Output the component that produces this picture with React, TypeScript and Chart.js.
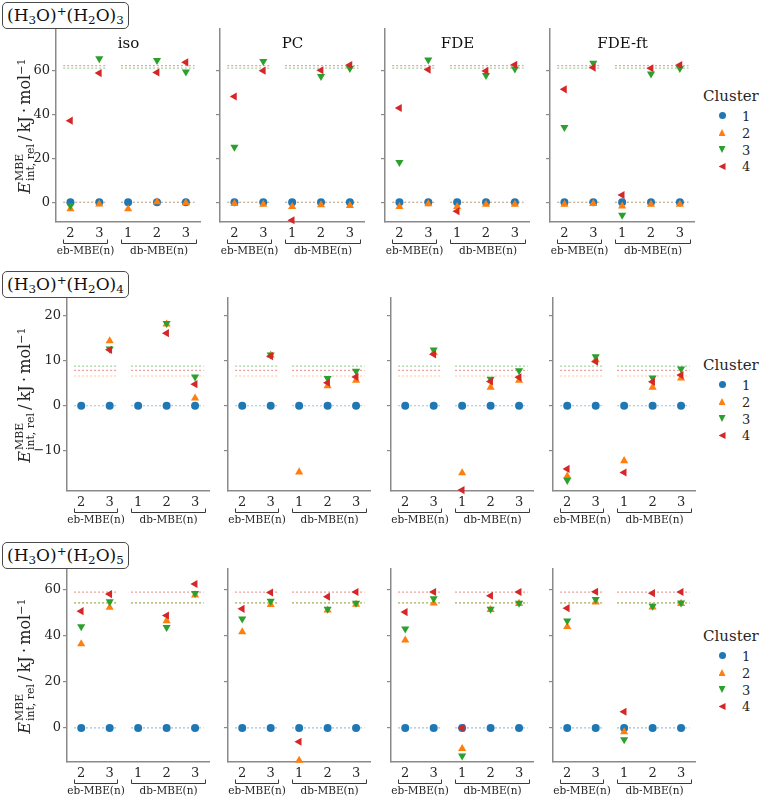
import React, { useEffect, useRef } from "react";
import { Chart, registerables } from "chart.js";

Chart.register(...registerables);

// ---------------- data ----------------
const METHODS = ["iso", "PC", "FDE", "FDE-ft"];
const X_VALUES = [0, 1, 2, 3, 4];
const X_TICK_LABELS = ["2", "3", "1", "2", "3"];
const GROUP_LABELS = ["eb-MBE(n)", "db-MBE(n)"];
const GROUP_SPANS = [[-0.25, 1.27], [1.74, 4.35]];
const REF_SPANS = [[-0.25, 1.25], [1.75, 4.3]];
const CLUSTERS = ["1", "2", "3", "4"];
const WATER_COUNTS = ["3", "4", "5"];

// (H3O)+(H2O)3 : rows = clusters 1..4, columns = eb2, eb3, db1, db2, db3
const N3_ISO = [
  [0, 0, 0, 0, 0],
  [-3.0, -0.9, -3.0, 0.15, -0.3],
  [-1.5, 65.5, null, 64.7, 59.5],
  [37.2, 58.9, null, 59.2, 63.8],
];
const N3_PC = [
  [0, 0, 0, 0, 0],
  [-0.6, -1.0, -2.0, -1.2, -1.5],
  [25.2, 64.3, null, 57.4, 61.1],
  [48.2, 60.0, -8.2, 60.2, 62.6],
];
const N3_FDE = [
  [0, 0, 0, 0, 0],
  [-2.0, -0.8, -2.0, -1.0, -1.0],
  [18.2, 64.9, null, 57.9, 60.8],
  [43.0, 60.5, -4.1, 59.9, 62.7],
];
const N3_FDEFT = [
  [0, 0, 0, 0, 0],
  [-1.0, -0.6, -1.8, -1.0, -1.0],
  [34.2, 63.5, -5.8, 58.6, 61.1],
  [51.5, 61.4, 3.3, 61.1, 62.6],
];
const N3_REF = [0, 0, 61.2, 62.3];
const N3_YLIM = [-9, 79];
const N3_YTICKS = [0, 20, 40, 60];
const N3_YTICK_LABELS = ["0", "20", "40", "60"];

// (H3O)+(H2O)4
const N4_ISO = [
  [0, 0, 0, 0, 0],
  [null, 14.4, null, 18.1, 1.7],
  [null, 12.6, null, 18.3, 6.4],
  [null, 12.4, null, 16.1, 4.8],
];
const N4_PC = [
  [0, 0, 0, 0, 0],
  [null, 11.2, -14.7, 4.4, 5.6],
  [null, 11.3, null, 6.1, 7.7],
  [null, 11.0, null, 5.1, 6.4],
];
const N4_FDE = [
  [0, 0, 0, 0, 0],
  [null, 11.8, -14.9, 4.1, 5.6],
  [null, 12.4, null, 5.9, 7.8],
  [null, 11.4, -18.7, 5.4, 6.3],
];
const N4_FDEFT = [
  [0, 0, 0, 0, 0],
  [-15.6, 10.2, -12.2, 4.1, 6.1],
  [-16.5, 10.9, null, 6.2, 8.2],
  [-14.0, 9.8, -14.8, 5.3, 6.8],
];
const N4_REF = [0, 6.6, 8.8, 7.85];
const N4_YLIM = [-18.9, 23.9];
const N4_YTICKS = [-10, 0, 10, 20];
const N4_YTICK_LABELS = ["\u221210", "0", "10", "20"];

// (H3O)+(H2O)5
const N5_ISO = [
  [0, 0, 0, 0, 0],
  [36.5, 52.3, null, 46.5, 57.7],
  [44.0, 54.8, null, 43.7, 58.4],
  [50.7, 58.1, null, 48.8, 62.5],
];
const N5_PC = [
  [0, 0, 0, 0, 0],
  [41.7, 53.5, -14.1, 51.1, 53.6],
  [47.4, 55.1, null, 51.6, 54.2],
  [51.7, 58.8, -6.0, 57.0, 59.0],
];
const N5_FDE = [
  [0, 0, 0, 0, 0],
  [38.1, 54.2, -9.0, 51.3, 54.0],
  [43.0, 56.2, -12.1, 51.6, 54.2],
  [50.3, 59.0, 0.0, 57.4, 59.0],
];
const N5_FDEFT = [
  [0, 0, 0, 0, 0],
  [44.0, 54.6, -1.7, 52.4, 54.0],
  [46.5, 55.8, -5.1, 52.9, 54.3],
  [52.0, 59.1, 7.0, 58.5, 59.0],
];
const N5_REF = [0, 54.3, 54.3, 59.0];
const N5_YLIM = [-14.8, 69];
const N5_YTICKS = [0, 20, 40, 60];
const N5_YTICK_LABELS = ["0", "20", "40", "60"];

const ROW_SERIES = [
  [N3_ISO, N3_PC, N3_FDE, N3_FDEFT],
  [N4_ISO, N4_PC, N4_FDE, N4_FDEFT],
  [N5_ISO, N5_PC, N5_FDE, N5_FDEFT],
];
const ROW_REFS = [N3_REF, N4_REF, N5_REF];
const ROW_YLIMS = [N3_YLIM, N4_YLIM, N5_YLIM];
const ROW_YTICKS = [N3_YTICKS, N4_YTICKS, N5_YTICKS];
const ROW_YTICK_LABELS = [N3_YTICK_LABELS, N4_YTICK_LABELS, N5_YTICK_LABELS];

// ---------------- style / layout ----------------
const FONT = "'DejaVu Serif', 'Liberation Serif', serif";
const TEXT = "#262626";
const SPINE = "#8a8a8a";
const COLORS = ["#1f77b4", "#ff7f0e", "#2ca02c", "#d62728"];
const REF_COLORS = [
  "rgba(31,119,180,0.45)",
  "rgba(255,127,14,0.45)",
  "rgba(44,160,44,0.45)",
  "rgba(214,39,40,0.45)",
];
const MARKERS = [
  { style: "circle", rot: 0, r: 4 },
  { style: "triangle", rot: 0, r: 4.7 },
  { style: "triangle", rot: 180, r: 4.7 },
  { style: "triangle", rot: -90, r: 4.7 },
];
const ROW_PLOT_LEFTS = [
  [56, 220, 385, 550],
  [67, 228, 391, 553],
  [67, 228, 391, 553],
];
const ROW_PLOT_W = [145, 143, 143];
const ROW_YLABEL_X = [25, 25, 25];
const ROW_TOPS = [29, 298, 569];
const PLOT_H = 193;
const PAD_T = 6;
const PAD_B = 45;
const PAD_R = 4;

Chart.defaults.font.family = FONT;

const zeroPadding = (s: any) => {
  s.paddingTop = 0;
  s.paddingBottom = 0;
  s.paddingLeft = 0;
  s.paddingRight = 0;
};

const bracketPlugin = {
  id: "groupBrackets",
  afterDraw(chart: any) {
    const { ctx, chartArea } = chart;
    const xs = chart.scales.x;
    ctx.save();
    ctx.strokeStyle = "#3a3a3a";
    ctx.lineWidth = 1;
    ctx.fillStyle = TEXT;
    ctx.font = `10.5px ${FONT}`;
    ctx.textAlign = "center";
    ctx.textBaseline = "middle";
    GROUP_SPANS.forEach(([a, b], g) => {
      const x0 = Math.round(xs.getPixelForValue(a)) + 0.5;
      const x1 = Math.round(xs.getPixelForValue(b)) + 0.5;
      const yT = Math.round(chartArea.bottom + 17) + 0.5;
      const yB = Math.round(chartArea.bottom + 21) + 0.5;
      ctx.beginPath();
      ctx.moveTo(x0, yT);
      ctx.lineTo(x0, yB);
      ctx.lineTo(x1, yB);
      ctx.lineTo(x1, yT);
      ctx.stroke();
      ctx.fillText(GROUP_LABELS[g], (x0 + x1) / 2, chartArea.bottom + 29.5);
    });
    ctx.restore();
  },
};

function Panel({ row, col }: { row: number; col: number }) {
  const ref = useRef<HTMLCanvasElement | null>(null);
  const lefts = ROW_PLOT_LEFTS[row];
  const plotW = ROW_PLOT_W[row];
  const padL = col === 0 ? lefts[0] : 8;
  const left = lefts[col] - padL;
  const top = ROW_TOPS[row] - PAD_T;
  const w = padL + plotW + PAD_R;
  const h = PAD_T + PLOT_H + PAD_B;

  useEffect(() => {
    const series = ROW_SERIES[row][col];
    const refs = ROW_REFS[row];
    const [ymin, ymax] = ROW_YLIMS[row];
    const yTicks = ROW_YTICKS[row];
    const yTickLabels = ROW_YTICK_LABELS[row];
    const datasets: any[] = [];
    refs.forEach((v, k) => {
      datasets.push({
        type: "line",
        data: [
          { x: REF_SPANS[0][0], y: v },
          { x: REF_SPANS[0][1], y: v },
          { x: 1.5, y: null },
          { x: REF_SPANS[1][0], y: v },
          { x: REF_SPANS[1][1], y: v },
        ],
        borderColor: REF_COLORS[k],
        borderWidth: 1.2,
        borderDash: [2, 2],
        pointRadius: 0,
        fill: false,
        spanGaps: false,
        order: 20 - k,
      });
    });
    series.forEach((vals, k) => {
      const pts: any[] = [];
      vals.forEach((v, i) => {
        if (v !== null) pts.push({ x: X_VALUES[i], y: v });
      });
      datasets.push({
        type: "scatter",
        data: pts,
        pointStyle: MARKERS[k].style,
        pointRotation: MARKERS[k].rot,
        pointRadius: MARKERS[k].r,
        backgroundColor: COLORS[k],
        borderColor: COLORS[k],
        borderWidth: 0,
        showLine: false,
        clip: false,
        order: 10 - k,
      });
    });

    const chart = new Chart(ref.current as HTMLCanvasElement, {
      type: "scatter",
      data: { datasets },
      options: {
        animation: false,
        responsive: false,
        events: [],
        layout: { padding: { left: 0, right: PAD_R, top: PAD_T, bottom: 0 } },
        plugins: {
          legend: { display: false },
          tooltip: { enabled: false },
          title: { display: false },
        },
        scales: {
          x: {
            type: "linear",
            min: -0.5,
            max: 4.5,
            grid: { display: false, drawTicks: false },
            border: { display: true, color: SPINE, width: 1.5 },
            ticks: {
              color: TEXT,
              font: { size: 13, family: FONT },
              padding: 4,
              autoSkip: false,
              maxRotation: 0,
              callback: (_v: any, i: number) => X_TICK_LABELS[i],
            },
            afterBuildTicks: (s: any) => {
              s.ticks = X_VALUES.map((v) => ({ value: v }));
            },
            afterFit: (s: any) => {
              s.height = PAD_B;
              zeroPadding(s);
            },
          },
          y: {
            type: "linear",
            min: ymin,
            max: ymax,
            grid: {
              display: true,
              drawOnChartArea: false,
              drawTicks: true,
              tickLength: 4,
              color: SPINE,
              lineWidth: 1.2,
            },
            border: { display: true, color: SPINE, width: 1.5 },
            ticks: {
              display: col === 0,
              color: TEXT,
              font: { size: 13, family: FONT },
              padding: 2,
              callback: (_v: any, i: number) => yTickLabels[i],
            },
            afterBuildTicks: (s: any) => {
              s.ticks = yTicks.map((v) => ({ value: v }));
            },
            afterFit: (s: any) => {
              s.width = padL;
              zeroPadding(s);
            },
          },
        },
      } as any,
      plugins: [bracketPlugin],
    });
    return () => chart.destroy();
  }, [row, col, padL]);

  return (
    <canvas
      ref={ref}
      width={w}
      height={h}
      style={{ position: "absolute", left, top, width: w, height: h }}
    />
  );
}

const markerShape = (k: number): React.CSSProperties => {
  const base: React.CSSProperties = {
    position: "absolute",
    width: 7,
    height: 7,
    background: COLORS[k],
  };
  if (k === 0) return { ...base, borderRadius: "50%" };
  if (k === 1) return { ...base, clipPath: "polygon(50% 0, 100% 100%, 0 100%)" };
  if (k === 2) return { ...base, clipPath: "polygon(0 0, 100% 0, 50% 100%)" };
  return { ...base, clipPath: "polygon(0 50%, 100% 0, 100% 100%)" };
};

function RowDecor({ row }: { row: number }) {
  const top = ROW_TOPS[row];
  const n = WATER_COUNTS[row];
  const sub = (t: string) => (
    <span style={{ fontSize: "0.7em", position: "relative", top: "0.3em" }}>{t}</span>
  );
  const sup = (t: string) => (
    <span style={{ fontSize: "0.7em", position: "relative", top: "-0.45em" }}>{t}</span>
  );
  return (
    <>
      <div
        style={{
          position: "absolute",
          left: 2,
          top: top - 27.5,
          height: 25,
          padding: "0 4px",
          border: "1.3px solid #4a4a4a",
          borderRadius: 5,
          background: "#fff",
          display: "flex",
          alignItems: "center",
          fontSize: 17,
          lineHeight: 1,
          color: "#111",
          whiteSpace: "nowrap",
          zIndex: 5,
        }}
      >
        <span>
          (H{sub("3")}O){sup("+")}(H{sub("2")}O){sub(n)}
        </span>
      </div>
      <div
        style={{
          position: "absolute",
          left: ROW_YLABEL_X[row],
          top: top + PLOT_H / 2,
          transform: "translate(-50%, -50%) rotate(-90deg)",
          whiteSpace: "nowrap",
          fontSize: 16,
          lineHeight: 1,
          color: TEXT,
        }}
      >
        <i>E</i>
        <span
          style={{
            display: "inline-flex",
            flexDirection: "column",
            fontSize: "0.68em",
            verticalAlign: "middle",
            lineHeight: 1.05,
            marginLeft: 1,
          }}
        >
          <span>MBE</span>
          <span>int, rel</span>
        </span>
        {"\u2009/\u2009kJ\u2009\u00b7\u2009mol"}
        {sup("\u22121")}
      </div>
      <div
        style={{
          position: "absolute",
          left: 703,
          top: top + 67,
          transform: "translateY(-50%)",
          fontSize: 15,
          lineHeight: 1,
          color: TEXT,
        }}
      >
        Cluster
      </div>
      {CLUSTERS.map((c, k) => {
        const cy = top + 86.7 + 16.9 * k;
        return (
          <React.Fragment key={k}>
            <div style={{ ...markerShape(k), left: 722 - 3.5, top: cy - 3.5 }} />
            <div
              style={{
                position: "absolute",
                left: 742,
                top: cy,
                transform: "translateY(-50%)",
                fontSize: 13,
                lineHeight: 1,
                color: TEXT,
              }}
            >
              {c}
            </div>
          </React.Fragment>
        );
      })}
    </>
  );
}

export default function App() {
  return (
    <div
      style={{
        position: "absolute",
        left: 0,
        top: 0,
        width: 760,
        height: 798,
        background: "#fff",
        fontFamily: FONT,
        overflow: "hidden",
      }}
    >
      {[0, 1, 2].map((r) =>
        [0, 1, 2, 3].map((c) => <Panel key={`${r}-${c}`} row={r} col={c} />)
      )}
      {[0, 1, 2].map((r) => (
        <RowDecor key={r} row={r} />
      ))}
      {METHODS.map((m, c) => (
        <div
          key={m}
          style={{
            position: "absolute",
            left: ROW_PLOT_LEFTS[0][c] + ROW_PLOT_W[0] / 2,
            top: ROW_TOPS[0] + 14,
            transform: "translate(-50%, -50%)",
            fontSize: 15,
            lineHeight: 1,
            color: "#111",
            whiteSpace: "nowrap",
          }}
        >
          {m}
        </div>
      ))}
    </div>
  );
}
